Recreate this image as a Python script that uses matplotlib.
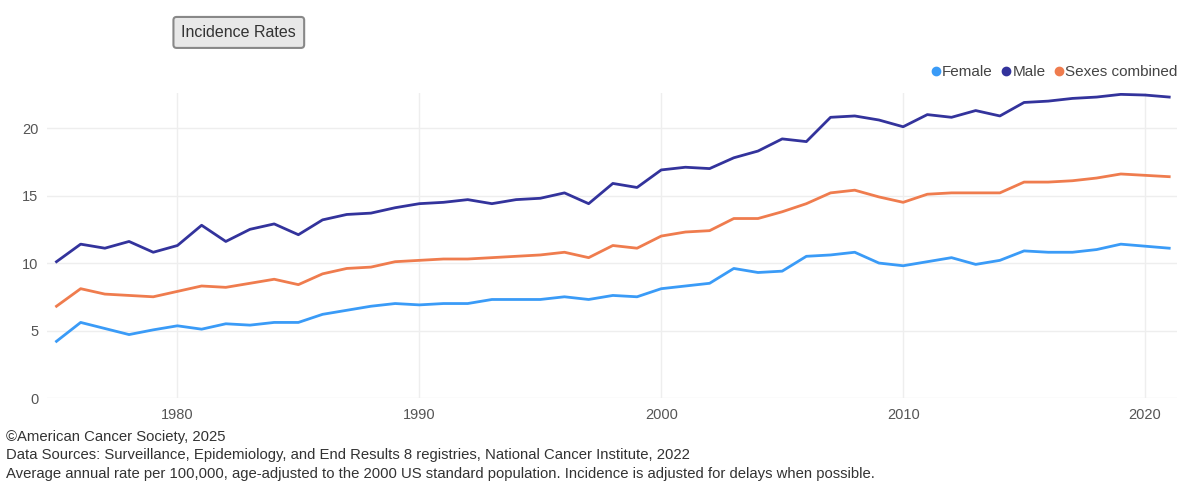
import matplotlib
matplotlib.use("Agg")
import matplotlib.pyplot as plt
from matplotlib.lines import Line2D

# data
years = list(range(1975, 2022))
female = [4.2, 5.6, 5.15, 4.7, 5.05, 5.35, 5.1, 5.5, 5.4, 5.6, 5.6, 6.2, 6.5, 6.8, 7.0,
          6.9, 7.0, 7.0, 7.3, 7.3, 7.3, 7.5, 7.3, 7.6, 7.5, 8.1, 8.3, 8.5, 9.6, 9.3,
          9.4, 10.5, 10.6, 10.8, 10.0, 9.8, 10.1, 10.4, 9.9, 10.2, 10.9, 10.8, 10.8, 11.0,
          11.4, 11.25, 11.1]
male = [10.1, 11.4, 11.1, 11.6, 10.8, 11.3, 12.8, 11.6, 12.5, 12.9, 12.1, 13.2, 13.6, 13.7, 14.1,
        14.4, 14.5, 14.7, 14.4, 14.7, 14.8, 15.2, 14.4, 15.9, 15.6, 16.9, 17.1, 17.0, 17.8, 18.3,
        19.2, 19.0, 20.8, 20.9, 20.6, 20.1, 21.0, 20.8, 21.3, 20.9, 21.9, 22.0, 22.2, 22.3,
        22.5, 22.45, 22.3]
combined = [6.8, 8.1, 7.7, 7.6, 7.5, 7.9, 8.3, 8.2, 8.5, 8.8, 8.4, 9.2, 9.6, 9.7, 10.1,
            10.2, 10.3, 10.3, 10.4, 10.5, 10.6, 10.8, 10.4, 11.3, 11.1, 12.0, 12.3, 12.4, 13.3, 13.3,
            13.8, 14.4, 15.2, 15.4, 14.9, 14.5, 15.1, 15.2, 15.2, 15.2, 16.0, 16.0, 16.1, 16.3,
            16.6, 16.5, 16.4]

series_names = ["Female", "Male", "Sexes combined"]
colors = ["#3a9bf7", "#33339c", "#ef7c4e"]
yticks = [0, 5, 10, 15, 20]
xticks = [1980, 1990, 2000, 2010, 2020]

plt.rcParams["font.family"] = ["Liberation Sans", "DejaVu Sans"]

fig = plt.figure(figsize=(12, 4.99), dpi=100)
ax = fig.add_axes([0.039, 0.2024, 0.942, 0.6112])

for vals, name, c in zip([female, male, combined], series_names, colors):
    ax.plot(years, vals, color=c, lw=2.0, label=name, solid_joinstyle="round")

ax.set_xlim(1974.6, 2021.33)
ax.set_ylim(0, 22.6)
ax.set_xticks(xticks)
ax.set_yticks(yticks)
ax.grid(True, color="#eeeeee", lw=1)
ax.set_axisbelow(True)
for s in ax.spines.values():
    s.set_visible(False)
ax.tick_params(length=0, colors="#555555", labelsize=10.5)
ax.tick_params(axis="y", pad=6)
ax.tick_params(axis="x", pad=7)

# legend with round markers
handles = [Line2D([], [], marker="o", ls="", color=c, markersize=6) for c in colors]
fig.legend(handles, series_names, loc="center right", bbox_to_anchor=(0.993, 0.856),
           ncol=3, frameon=False, fontsize=11, handletextpad=-0.1, columnspacing=0.4,
           handlelength=1.0, labelcolor="#444444")

# title button
fig.text(0.199, 0.935, "Incidence Rates", ha="center", va="center", fontsize=11.5, color="#333333",
         bbox=dict(boxstyle="round,pad=0.5,rounding_size=0.2", fc="#e8e8e8", ec="#888888", lw=1.5))

notes = ["\u00a9American Cancer Society, 2025",
         "Data Sources: Surveillance, Epidemiology, and End Results 8 registries, National Cancer Institute, 2022",
         "Average annual rate per 100,000, age-adjusted to the 2000 US standard population. Incidence is adjusted for delays when possible."]
for i, t in enumerate(notes):
    fig.text(0.005, (499 - 437 - 18.5 * i) / 499, t, ha="left", va="center", fontsize=10.7, color="#333333")

fig.savefig("out.png", dpi=100)
